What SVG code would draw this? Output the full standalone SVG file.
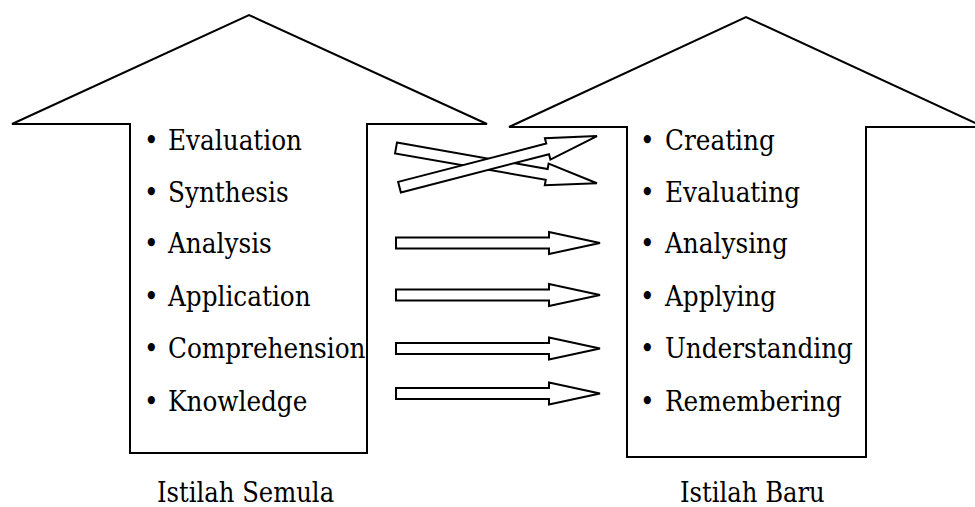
<svg xmlns="http://www.w3.org/2000/svg" width="975" height="507" viewBox="0 0 975 507">
<defs>
<style>
.shape{fill:#fff;stroke:#000;stroke-width:2;stroke-linejoin:miter}
.arr{fill:#fff;stroke:#000;stroke-width:2;stroke-linejoin:miter}
text{font-family:"DejaVu Serif Condensed","DejaVu Serif","Liberation Serif",serif;font-stretch:condensed;font-size:27.5px;fill:#000}
.lbl{font-size:27px}
</style>
<polygon id="arrowShape" class="arr" points="0,-5.5 153,-5.5 153,-11 204,0 153,11 153,5.5 0,5.5"/>
</defs>
<rect width="975" height="507" fill="#fff"/>
<g id="house-left">
<polygon class="shape" points="12,124 249,15 487,124 367,124 367,453 130,453 130,124"/>
<g id="list-left">
<text x="144" y="150">•</text><text x="168" y="150">Evaluation</text>
<text x="144" y="202">•</text><text x="168" y="202">Synthesis</text>
<text x="144" y="253">•</text><text x="168" y="253">Analysis</text>
<text x="144" y="306">•</text><text x="168" y="306">Application</text>
<text x="144" y="358">•</text><text x="168" y="358">Comprehension</text>
<text x="144" y="411">•</text><text x="168" y="411">Knowledge</text>
</g>
</g>
<g id="house-right">
<polygon class="shape" points="509,127 746,17 984,127 866,127 866,457 627,457 627,127"/>
<g id="list-right">
<text x="640" y="150">•</text><text x="665" y="150">Creating</text>
<text x="640" y="202">•</text><text x="665" y="202">Evaluating</text>
<text x="640" y="253">•</text><text x="665" y="253">Analysing</text>
<text x="640" y="306">•</text><text x="665" y="306">Applying</text>
<text x="640" y="358">•</text><text x="665" y="358">Understanding</text>
<text x="640" y="411">•</text><text x="665" y="411">Remembering</text>
</g>
</g>
<g id="connectors">
<use href="#arrowShape" transform="translate(396,148) rotate(9.95)"/>
<use href="#arrowShape" transform="translate(399.5,187.2) rotate(-14.5)"/>
<use href="#arrowShape" transform="translate(396,243)"/>
<use href="#arrowShape" transform="translate(396,295)"/>
<use href="#arrowShape" transform="translate(396,348.5)"/>
<use href="#arrowShape" transform="translate(396,393.5)"/>
</g>
<g id="label-left"><text class="lbl" x="157" y="502">Istilah Semula</text></g>
<g id="label-right"><text class="lbl" x="680" y="502">Istilah Baru</text></g>
</svg>
